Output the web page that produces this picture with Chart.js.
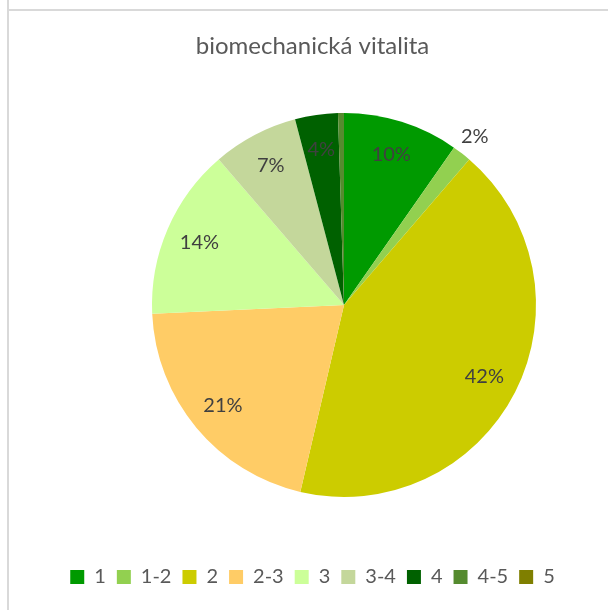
<!DOCTYPE html>
<html>
<head>
<meta charset="utf-8">
<script src="https://cdn.jsdelivr.net/npm/chart.js@4.4.1/dist/chart.umd.min.js"></script>
<style>
  html, body { margin: 0; padding: 0; background: #ffffff; width: 608px; height: 610px; overflow: hidden; }
  #vline { position: absolute; left: 7px; top: 0; width: 2px; height: 610px; background: #d9d9d9; }
  #hline { position: absolute; left: 9px; top: 9px; width: 599px; height: 2px; background: #d9d9d9; }
  #wrap { position: absolute; left: 9px; top: 11px; width: 599px; height: 599px; }
</style>
</head>
<body>
<div id="vline"></div>
<div id="hline"></div>
<div id="wrap"><canvas id="c" width="599" height="599"></canvas></div>
<script>
// ---- data ----
const chartTitle = 'biomechanická vitalita';
const categories = ['1', '1-2', '2', '2-3', '3', '3-4', '4', '4-5', '5'];
const shares = [9.7, 1.6, 42.3, 20.6, 14.4, 7.2, 3.6, 0.5, 0];
const sliceColors = ['#009A00', '#92D050', '#CCCC00', '#FFCC66', '#CCFF99', '#C4D79B', '#006100', '#558B2F', '#7F7F00'];

// ---- layout (pie placement inside the canvas) ----
const pieCenterX = 335, pieCenterY = 294, pieRadius = 192;

const piePlacement = {
  id: 'piePlacement',
  afterLayout(chart) {
    const a = chart.chartArea;
    a.left = pieCenterX - pieRadius;
    a.right = pieCenterX + pieRadius;
    a.top = pieCenterY - pieRadius;
    a.bottom = pieCenterY + pieRadius;
    a.width = a.right - a.left;
    a.height = a.bottom - a.top;
  }
};

const pctLabels = {
  id: 'pctLabels',
  afterDatasetsDraw(chart) {
    const ctx = chart.ctx;
    const meta = chart.getDatasetMeta(0);
    const data = chart.data.datasets[0].data;
    const total = data.reduce((s, v) => s + v, 0);
    ctx.save();
    ctx.font = '20px Lato';
    ctx.fillStyle = '#404040';
    ctx.textAlign = 'center';
    ctx.textBaseline = 'middle';
    meta.data.forEach((arc, i) => {
      const v = data[i];
      if (v < 1) return;
      const p = arc.getProps(['x', 'y', 'startAngle', 'endAngle', 'outerRadius'], true);
      const mid = (p.startAngle + p.endAngle) / 2;
      const f = v < 3 ? 1.11 : 0.82;
      const r = p.outerRadius * f;
      const x = p.x + Math.cos(mid) * r;
      const y = p.y + Math.sin(mid) * r;
      ctx.fillText(Math.round(v / total * 100) + '%', x, y);
    });
    ctx.restore();
  }
};

new Chart(document.getElementById('c'), {
  type: 'pie',
  data: {
    labels: categories,
    datasets: [{
      data: shares,
      backgroundColor: sliceColors,
      borderWidth: 0,
      hoverOffset: 0
    }]
  },
  options: {
    responsive: false,
    animation: false,
    events: [],
    layout: { padding: { bottom: 13, left: 8 } },
    plugins: {
      title: {
        display: true,
        text: chartTitle,
        color: '#595959',
        font: { family: 'Lato', size: 24, weight: 'normal' },
        padding: { top: 21, bottom: 10 }
      },
      legend: {
        display: true,
        position: 'bottom',
        labels: {
          color: '#595959',
          font: { family: 'Lato', size: 20 },
          boxWidth: 14,
          boxHeight: 14,
          padding: 11
        }
      },
      tooltip: { enabled: false }
    }
  },
  plugins: [piePlacement, pctLabels]
});
</script>
</body>
</html>
